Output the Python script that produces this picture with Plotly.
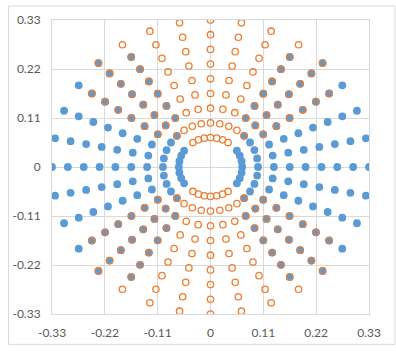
import math
import plotly.graph_objects as go

# Values (polar grid of points)
radii = [0.066, 0.099, 0.132, 0.165, 0.198, 0.231, 0.264, 0.297, 0.33]
ray_angles_deg = [-56.25, -45, -33.75, -22.5, -11.25, 0, 11.25, 22.5, 33.75, 45, 56.25]
# largest |angle| (from the horizontal) that carries a blue point, per ring
blue_max_angle_deg = [33.75, 45, 56.25, 56.25, 56.25, 56.25, 56.25, 56.25, 45]
tick_vals = [-0.33, -0.22, -0.11, 0, 0.11, 0.22, 0.33]
tick_text = ["-0.33", "-0.22", "-0.11", "0", "0.11", "0.22", "0.33"]

bx, by, ox, oy = [], [], [], []
for r, amax in zip(radii, blue_max_angle_deg):
    for a in ray_angles_deg:
        if abs(a) <= amax + 1e-9:
            for base in (0, 180):
                t = math.radians(a + base)
                bx.append(r * math.cos(t)); by.append(r * math.sin(t))
            for base in (90, 270):
                t = math.radians(a + base)
                ox.append(r * math.cos(t)); oy.append(r * math.sin(t))

BLUE = "#5B9BD5"
ORANGE = "#ED7D31"
GRID = "#D9D9D9"

fig = go.Figure()
fig.add_trace(go.Scatter(x=bx, y=by, mode="markers",
                         marker=dict(symbol="circle", size=7.8, color=BLUE, line=dict(width=0)),
                         showlegend=False))
fig.add_trace(go.Scatter(x=ox, y=oy, mode="markers",
                         marker=dict(symbol="circle-open", size=6.4, color=ORANGE,
                                     line=dict(width=1.3, color=ORANGE)),
                         showlegend=False))

axis_common = dict(range=[-0.33, 0.33], tickvals=tick_vals, ticktext=tick_text,
                   showgrid=True, gridcolor=GRID, gridwidth=1,
                   zeroline=True, zerolinecolor=GRID, zerolinewidth=1,
                   showline=True, linecolor=GRID, linewidth=1, mirror=True,
                   ticks="", ticklabelstandoff=8,
                   tickfont=dict(family="Lato, Carlito, Liberation Sans, sans-serif", size=12, color="#595959"))

fig.update_layout(
    width=396, height=352,
    margin=dict(l=45, r=27, t=15, b=32),
    paper_bgcolor="white", plot_bgcolor="white",
    xaxis=axis_common, yaxis=axis_common,
    shapes=[dict(type="rect", xref="paper", yref="paper",
                 x0=-0.1373, x1=1.0818, y0=-0.1033, y1=1.0475,
                 line=dict(color=GRID, width=1), fillcolor="rgba(0,0,0,0)", layer="below")],
)

fig.write_html("out.html")
